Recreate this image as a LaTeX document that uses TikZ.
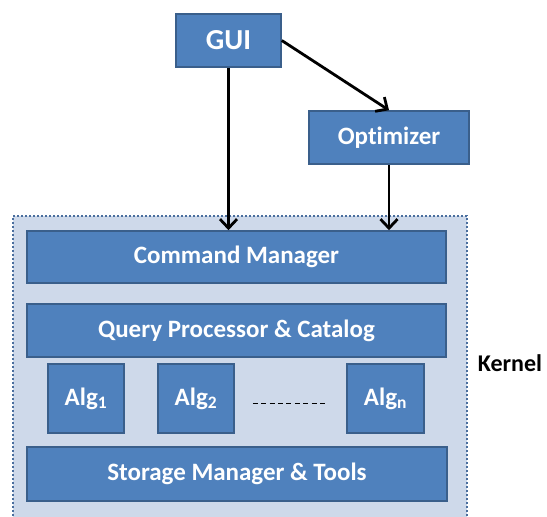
\documentclass[tikz,border=0pt]{standalone}
\usepackage{fontspec}
\setmainfont{Carlito}[Ligatures=NoCommon]
\usetikzlibrary{arrows.meta}

\definecolor{boxblue}{HTML}{4F81BD}
\definecolor{boxedge}{HTML}{3A5F8B}
\definecolor{kernelfill}{HTML}{CED9EA}
\definecolor{kerneledge}{HTML}{4A6E9E}

\tikzstyle{block} = [draw=boxedge,line width=1.6pt,fill=boxblue,text=white,font=\bfseries,inner sep=0pt]
\tikzstyle{kernelbox} = [draw=kerneledge,line width=2pt,dotted,fill=kernelfill]
\tikzstyle{kernellabel} = [font=\bfseries\fontsize{24}{24}\selectfont]
\tikzstyle{arrowdecorate} = [-{Straight Barb[length=9pt,width=17pt]},line width=2.8pt]
\tikzstyle{dashline} = [line width=1pt,dash pattern=on 5pt off 3.4pt]

\begin{document}
\begin{tikzpicture}[x=1pt,y=-1pt]
      \useasboundingbox (0,0) rectangle (547,517);
      %% kernel area
      \node[kernelbox, minimum width=454pt, minimum height=306pt] (kernel) at (240,369) {};
      \node[kernellabel] (kernellbl) at (510,363) {Kernel};

      %% blocks
      \foreach \nodename/\txt/\x/\y/\w/\h/\fs in {
        gui/GUI/228.5/40.5/105/53/29,
        opt/Optimizer/389/137.5/160/53/25,
        cmd/{Command Manager}/236.5/257/419/52/25,
        query/{Query Processor \& Catalog}/236.5/330.5/419/53/25,
        alg1/{Alg\textsubscript{1}}/86/398.5/76/69/25,
        alg2/{Alg\textsubscript{2}}/196/398.5/76/69/25,
        algn/{Alg\textsubscript{n}}/385.5/398.5/77/69/25,
        store/{Storage Manager \& Tools}/237/474/420/54/25}
      {
        \node[block, minimum width=\w pt, minimum height=\h pt] (\nodename) at (\x,\y) {\fontsize{\fs}{\fs}\selectfont\txt};
      }
      % arrows
      \path
      \foreach \startnode/\endnode in {
        gui.east/opt.north, gui.south/gui.south |- cmd.north, opt.south/opt.south |- cmd.north}
      {
        (\startnode) edge[arrowdecorate] (\endnode)
      };
      \draw[dashline, shorten <=18pt, shorten >=20pt] ([yshift=-4.5pt]alg2.east) -- ([yshift=-4.5pt]algn.west);
\end{tikzpicture}
\end{document}
